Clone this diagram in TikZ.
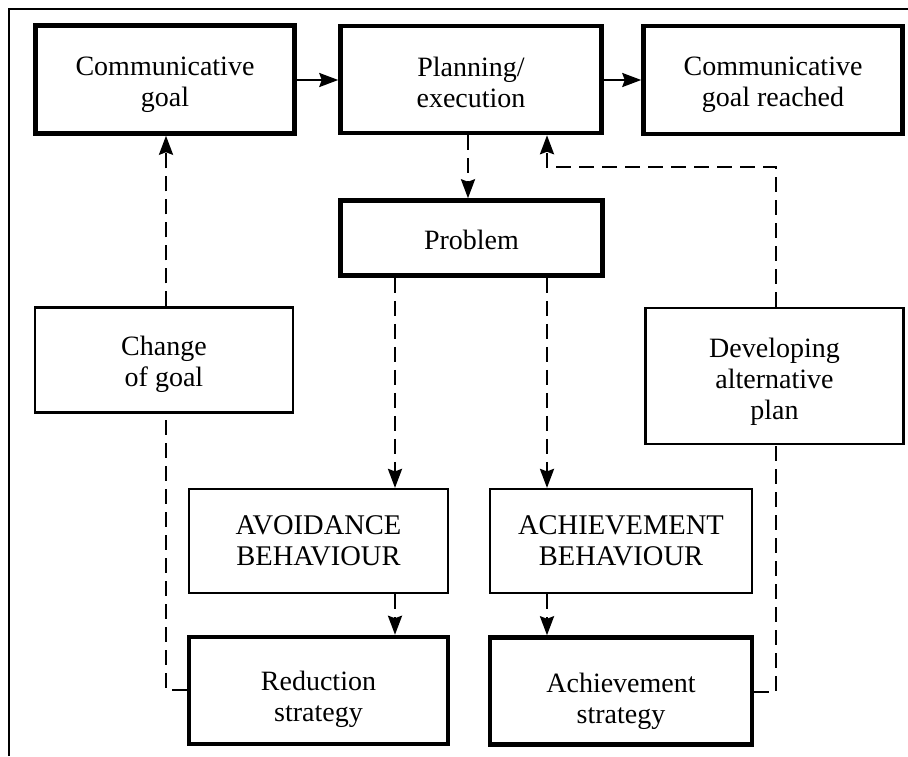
\documentclass[tikz,border=0pt]{standalone}
\usepackage{fontspec}
\setmainfont{Liberation Serif}
\usetikzlibrary{arrows.meta}
\begin{document}
\begin{tikzpicture}[x=1pt,y=-1pt,
  box/.style={draw, inner sep=0pt},
  thickbox/.style={box, line width=4.5pt},
  thinbox/.style={box, line width=2.2pt},
  txt/.style={inner sep=0pt, align=center, font=\fontsize{28}{31}\selectfont},
  capstxt/.style={txt, font=\fontsize{28.5}{31}\selectfont},
  tip/.style={-{Stealth[length=19pt,width=14pt,inset=2.5pt]}},
  solidarrow/.style={line width=2.3pt, tip},
  dasharrow/.style={line width=2.5pt, dash pattern=on 15pt off 8pt, tip},
  dashline/.style={line width=2.5pt, dash pattern=on 15pt off 8pt}
]
\useasboundingbox (0,0) rectangle (908,756);
\fill[white] (0,0) rectangle (908,756);
\draw[line width=2pt] (9,756) -- (9,9) -- (908,9);

\node[thickbox, minimum width=259pt, minimum height=108pt] (cg) at (165,79.5) {};
\node[thickbox, minimum width=261pt, minimum height=107pt] (pe) at (471,79.5) {};
\node[thickbox, minimum width=259pt, minimum height=108pt] (cgr) at (773,80) {};
\node[thickbox, minimum width=262pt, minimum height=75pt] (prob) at (471.5,238) {};
\node[thinbox, minimum width=258pt, minimum height=105pt] (chg) at (164,360) {};
\node[thinbox, minimum width=258pt, minimum height=136pt] (dev) at (774.5,376) {};
\node[thinbox, minimum width=259pt, minimum height=104pt] (avo) at (318.5,541) {};
\node[thinbox, minimum width=262pt, minimum height=104pt] (ach) at (621,541) {};
\node[thickbox, minimum width=259pt, minimum height=107pt] (red) at (318.5,690.5) {};
\node[thickbox, minimum width=262pt, minimum height=107pt] (ast) at (621,691) {};

\node[txt] (cgT) at ([yshift=-5pt]cg.center) {Communicative\\goal};
\node[txt] (peT) at ([yshift=-3pt]pe.center) {Planning/\\execution};
\node[txt] (cgrT) at ([yshift=-5pt]cgr.center) {Communicative\\goal reached};
\node[txt] (probT) at ([yshift=-2pt]prob.center) {Problem};
\node[txt] (chgT) at ([yshift=-4pt]chg.center) {Change\\of goal};
\node[txt] (devT) at ([yshift=-6pt]dev.center) {Developing\\alternative\\plan};
\node[capstxt] (avoT) at (avo.center) {AVOIDANCE\\BEHAVIOUR};
\node[capstxt] (achT) at (ach.center) {ACHIEVEMENT\\BEHAVIOUR};
\node[txt] (redT) at ([yshift=-9pt]red.center) {Reduction\\strategy};
\node[txt] (astT) at ([yshift=-10pt]ast.center) {Achievement\\strategy};

\coordinate (xa) at (395,0);
\coordinate (xb) at (547,0);
\coordinate (xl) at (166,0);
\coordinate (xr) at (776,0);
\coordinate (xp) at (468,0);
\coordinate (ym) at (0,80);
\coordinate (yt) at (0,167);
\coordinate (ybl) at (0,690);
\coordinate (ybr) at (0,692);

\draw[solidarrow] (cg.east |- ym) -- (pe.west |- ym);
\draw[solidarrow] (pe.east |- ym) -- (cgr.west |- ym);
\draw[dasharrow] (pe.south -| xp) -- (prob.north -| xp);
\draw[dasharrow] (prob.south -| xa) -- (avo.north -| xa);
\draw[dasharrow] (prob.south -| xb) -- (ach.north -| xb);
\draw[dasharrow] (avo.south -| xa) -- (red.north -| xa);
\draw[dasharrow] (ach.south -| xb) -- (ast.north -| xb);
\draw[dashline] (red.west |- ybl) -- (xl |- ybl) -- (chg.south -| xl);
\draw[dasharrow] (chg.north -| xl) -- (cg.south -| xl);
\draw[dashline] (ast.east |- ybr) -- (xr |- ybr) -- (dev.south -| xr);
\draw[dasharrow] (dev.north -| xr) -- (xr |- yt) -- (xb |- yt) -- (pe.south -| xb);
\end{tikzpicture}
\end{document}
